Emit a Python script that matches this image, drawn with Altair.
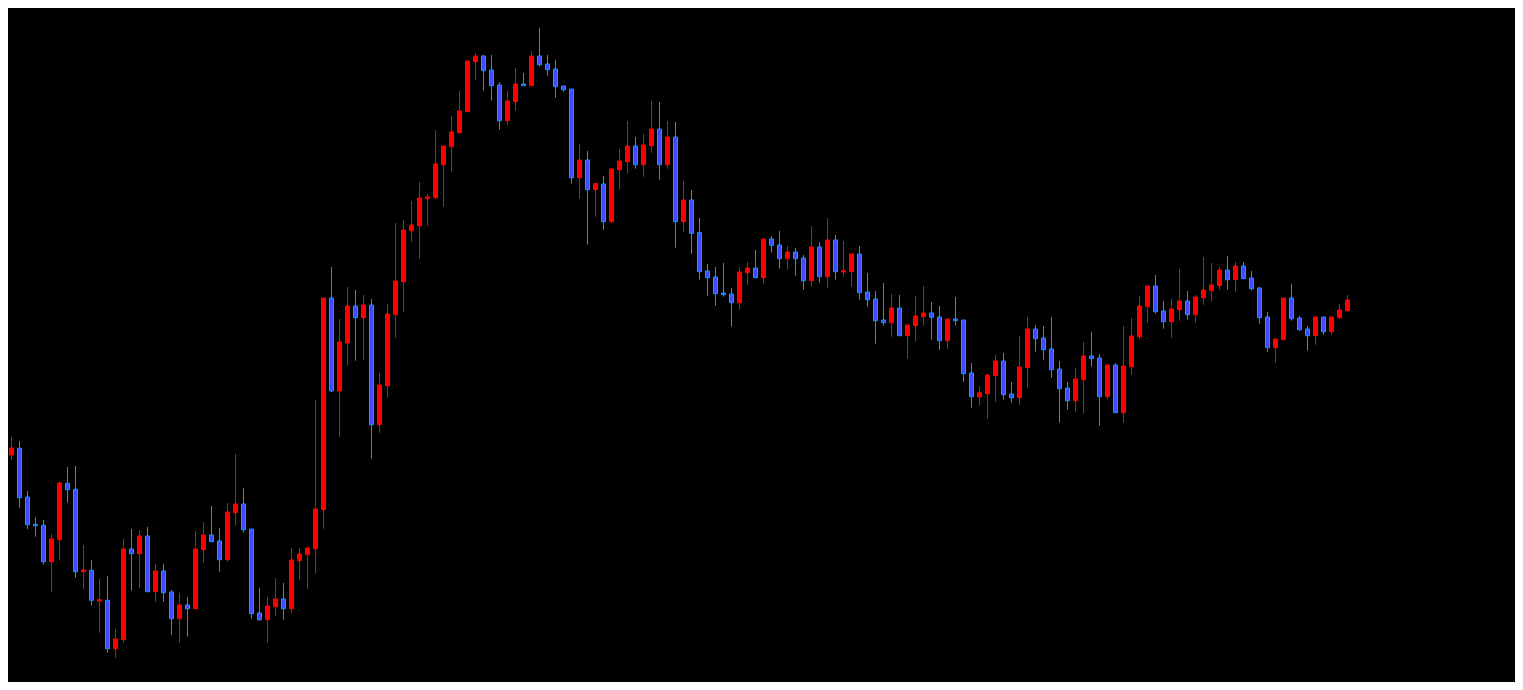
import altair as alt
import pandas as pd

# Candle readings (price units, arbitrary scale; higher = up)
open_ = [219.3, 245, 251.7, 203, 175.7, 174.7, 138.3, 160.3, 216.7, 210.7,
         128.3, 129.7, 99, 99.7, 51.3, 60.3, 151, 146.3, 164, 108.3,
         129, 108, 81.3, 95, 91.3, 150.3, 165, 159, 140.3, 187.3,
         196, 171, 87, 80.3, 93.3, 101, 91.3, 139.3, 145.3, 151.3,
         190.3, 402, 309, 357, 394, 382.3, 395, 275.3, 314.3, 385.3,
         418.3, 469.3, 474.3, 501.3, 502.3, 535.3, 553.3, 567.3, 588.3, 638.3,
         644, 630, 615, 579.3, 598.3, 616, 614.3, 644, 636, 631,
         614, 611, 522.3, 540, 510.3, 516, 478.3, 530.3, 538.3, 554,
         535.3, 554.3, 571, 535.3, 563, 478.3, 500, 467.3, 429, 423,
         407, 406, 397.3, 427.3, 432, 422.3, 461, 455, 441.3, 448,
         442, 419.3, 453, 423.3, 460, 428, 428.3, 446, 408, 401,
         380, 377.3, 392, 364.3, 374.3, 383.3, 387, 383, 359.3, 381,
         380, 327, 303.3, 306.3, 324.3, 339, 306, 302.3, 332.3, 371,
         362, 351, 331, 312, 299.3, 320.3, 344, 342, 303.3, 335,
         287.3, 333.3, 363.3, 393.3, 414, 389, 378.3, 390.3, 399, 385.3,
         402.3, 409.3, 414.3, 430, 420.3, 434, 422, 412, 383, 352.3,
         360.3, 402, 382, 371, 364.3, 383, 368.3, 382.3, 389.3]
high = [247.3, 263.3, 259, 209, 182.7, 180, 166, 218, 233, 234,
        155, 140, 121, 124, 71, 161, 171, 170, 173, 136,
        136, 110, 107.3, 103, 169, 178, 194, 172, 197, 246,
        212, 171, 112, 103, 122, 117, 152, 152, 152, 300,
        402, 433, 381, 413, 410, 405, 401, 327, 396, 477,
        480, 499, 518, 506, 570, 554, 584, 609, 639, 647,
        645, 645, 618, 609, 632, 627, 649, 672, 645, 640,
        614, 611, 556, 549, 517.3, 524, 531, 551, 579, 563,
        566, 599, 598, 579, 578, 519, 510, 482, 436, 433,
        437, 412, 433, 438, 450, 461, 464, 469, 454, 452,
        445, 474, 458, 482, 465, 459, 446, 454, 427, 409,
        417, 406, 405, 375, 404, 414, 398, 394, 381, 403,
        380, 337, 314, 326, 345, 347, 318, 364, 383, 375,
        374, 383, 339, 318, 332, 358, 368, 346, 335, 337,
        374, 382, 404, 414, 425, 399, 401, 431, 409, 405,
        443, 437, 433, 444, 438, 438, 429, 413, 388, 361,
        402, 416, 384, 374, 383, 383, 384, 396, 405]
low = [206, 240, 192.3, 171, 163.3, 135.3, 108.3, 140.3, 197.3, 122.3,
       111, 94.3, 67.3, 47.3, 42.3, 57.3, 109.3, 112, 108.3, 98.3,
       98.3, 65, 57.3, 63.3, 91.3, 137.3, 158.3, 128.3, 138.3, 174.3,
       167.3, 81.3, 79.3, 57.3, 84.3, 80.3, 87.3, 120.3, 111.3, 126.3,
       171.3, 308, 263.3, 334.3, 339.3, 340.3, 241.3, 267.3, 302.3, 362.3,
       388.3, 458.3, 441.3, 474.3, 501.3, 493.3, 528.3, 567.3, 588.3, 620.3,
       609.3, 599.3, 570.3, 575.3, 589.3, 614.3, 614.3, 633.3, 624.3, 602.3,
       608.3, 516.3, 501.3, 455.3, 483.3, 470.3, 477.3, 510.3, 526.3, 531.3,
       523.3, 547.3, 520.3, 531.3, 452.3, 468.3, 446.3, 420.3, 404.3, 394.3,
       403.3, 373.3, 390.3, 415.3, 422.3, 416.3, 447.3, 431.3, 430.3, 424.3,
       410.3, 413.3, 417.3, 412.3, 420.3, 423.3, 413.3, 400.3, 393.3, 356.3,
       374.3, 363.3, 364.3, 341.3, 358.3, 374.3, 360.3, 350.3, 351.3, 374.3,
       318.3, 292.3, 294.3, 281.3, 298.3, 300.3, 297.3, 295.3, 312.3, 348.3,
       340.3, 322.3, 277.3, 290.3, 288.3, 286.3, 333.3, 274.3, 300.3, 287.3,
       277.3, 325.3, 360.3, 377.3, 386.3, 371.3, 362.3, 379.3, 380.3, 377.3,
       395.3, 398.3, 410.3, 410.3, 408.3, 421.3, 409.3, 376.3, 348.3, 337.3,
       360.3, 379.3, 369.3, 349.3, 355.3, 365.3, 365.3, 381.3, 389.3]
close = [246, 252, 202.3, 175.3, 174.3, 138.3, 161, 217, 210.3, 128.3,
         130, 99.7, 100.3, 51.3, 61, 151, 146.3, 164, 108.3, 129,
         107.3, 81.3, 95, 91.3, 151, 165, 158.3, 140.3, 188, 196,
         170.3, 86.3, 80.3, 94, 101, 91.3, 140, 146, 152, 191,
         402, 309, 358, 394, 382.3, 395, 275.3, 315, 386, 419,
         470, 475, 502, 503, 536, 554, 568, 589, 639, 644,
         629.3, 614.3, 579.3, 599, 616, 614.3, 644, 635.3, 630.3, 613.3,
         610.3, 522.3, 540, 510.3, 516.3, 478.3, 531, 539, 554, 535.3,
         555, 571, 535.3, 563, 478.3, 500, 466.7, 428.3, 422.3, 406.3,
         405.3, 397.3, 428, 432, 422.3, 461, 454.7, 441.3, 448, 441.3,
         419.3, 453, 423.3, 460, 428.3, 429.3, 446, 407.3, 400.3, 379.3,
         377.3, 392, 364.3, 375, 384, 387, 382.7, 359.3, 381, 379.3,
         326.3, 303.3, 307.3, 325, 339, 305.3, 302.3, 333, 371, 361.3,
         350.3, 330.3, 311.3, 299.3, 321, 344, 341.5, 303.3, 335, 287.3,
         334, 364, 394, 414, 388.3, 378.3, 391, 399, 385.3, 403,
         410, 415, 430, 420.3, 434, 421.3, 411.3, 382.3, 352.3, 361,
         402, 381.3, 370.3, 364.3, 383, 368.3, 383, 390, 400]

df = pd.DataFrame({"idx": list(range(len(open_))), "open": open_,
                   "high": high, "low": low, "close": close})
df["dir"] = ["up" if c >= o else "down" for o, c in zip(df["open"], df["close"])]

xscale = alt.Scale(domain=[0.5625, 188.9375], nice=False, zero=False, padding=0)
yscale = alt.Scale(domain=[18, 692], nice=False, zero=False, padding=0)

base = alt.Chart(df)

wick = base.mark_rule(strokeWidth=1).encode(
    x=alt.X("idx:Q", scale=xscale, axis=None),
    y=alt.Y("low:Q", scale=yscale, axis=None),
    y2="high:Q",
    color=alt.Color("dir:N", scale=alt.Scale(domain=["up", "down"],
                                             range=["#FF0000", "#1E90FF"]), legend=None),
)

body = base.mark_bar(size=4, strokeWidth=1).encode(
    x=alt.X("idx:Q", scale=xscale, axis=None),
    y=alt.Y("open:Q", scale=yscale, axis=None),
    y2="close:Q",
    fill=alt.Fill("dir:N", scale=alt.Scale(domain=["up", "down"],
                                           range=["#FF0000", "#3A4DFF"]), legend=None),
    stroke=alt.Stroke("dir:N", scale=alt.Scale(domain=["up", "down"],
                                               range=["#FF0000", "#1E90FF"]), legend=None),
)

chart = alt.layer(wick, body).properties(
    width=1507, height=674, background="#000000", padding=0, autosize="none"
).configure_view(stroke=None, fill="#000000")

chart.save("out.html", embed_options={"renderer": "svg", "actions": False})
